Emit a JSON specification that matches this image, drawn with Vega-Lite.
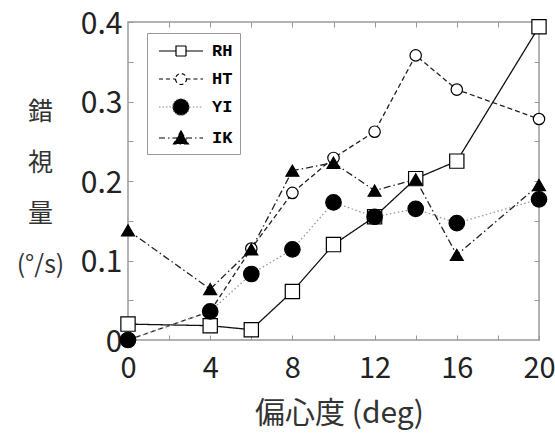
{
  "$schema": "https://vega.github.io/schema/vega-lite/v6.json",
  "width": 411,
  "height": 318,
  "autosize": {"type": "none"},
  "padding": {"left": 128, "top": 22, "right": 16, "bottom": 94},
  "background": "white",
  "config": {
    "view": {"stroke": "#999", "strokeWidth": 1.5},
    "font": "Noto Sans CJK JP",
    "legend": {
      "title": null,
      "orient": "none", "legendX": 19, "legendY": 11,
      "padding": 7, "strokeColor": "#999", "fillColor": "white",
      "rowPadding": 9, "symbolSize": 400, "symbolOpacity": 1, "symbolStrokeWidth": 1.2,
      "symbolOffset": 16,
      "labelFont": "Liberation Mono", "labelFontWeight": "bold",
      "labelFontSize": 17, "labelColor": "black", "labelOffset": 20
    }
  },
  "data": {
    "values": [
      {"series": "RH", "x": 0, "y": 0.020},
      {"series": "RH", "x": 4, "y": 0.018},
      {"series": "RH", "x": 6, "y": 0.013},
      {"series": "RH", "x": 8, "y": 0.061},
      {"series": "RH", "x": 10, "y": 0.120},
      {"series": "RH", "x": 12, "y": 0.155},
      {"series": "RH", "x": 14, "y": 0.203},
      {"series": "RH", "x": 16, "y": 0.225},
      {"series": "RH", "x": 20, "y": 0.394},
      {"series": "HT", "x": 0, "y": 0.0},
      {"series": "HT", "x": 4, "y": 0.036},
      {"series": "HT", "x": 6, "y": 0.115},
      {"series": "HT", "x": 8, "y": 0.185},
      {"series": "HT", "x": 10, "y": 0.229},
      {"series": "HT", "x": 12, "y": 0.262},
      {"series": "HT", "x": 14, "y": 0.358},
      {"series": "HT", "x": 16, "y": 0.315},
      {"series": "HT", "x": 20, "y": 0.278},
      {"series": "YI", "x": 0, "y": 0.0},
      {"series": "YI", "x": 4, "y": 0.036},
      {"series": "YI", "x": 6, "y": 0.083},
      {"series": "YI", "x": 8, "y": 0.114},
      {"series": "YI", "x": 10, "y": 0.173},
      {"series": "YI", "x": 12, "y": 0.155},
      {"series": "YI", "x": 14, "y": 0.165},
      {"series": "YI", "x": 16, "y": 0.147},
      {"series": "YI", "x": 20, "y": 0.177},
      {"series": "IK", "x": 0, "y": 0.138},
      {"series": "IK", "x": 4, "y": 0.064},
      {"series": "IK", "x": 6, "y": 0.114},
      {"series": "IK", "x": 8, "y": 0.213},
      {"series": "IK", "x": 10, "y": 0.223},
      {"series": "IK", "x": 12, "y": 0.188},
      {"series": "IK", "x": 14, "y": 0.202},
      {"series": "IK", "x": 16, "y": 0.107},
      {"series": "IK", "x": 20, "y": 0.195}
    ]
  },
  "layer": [
    {
      "mark": {"type": "line", "strokeWidth": 1.3},
      "encoding": {
        "x": {
          "field": "x", "type": "quantitative",
          "scale": {"domain": [0, 20], "nice": false, "zero": false},
          "axis": {
            "orient": "bottom",
            "values": [0, 2, 4, 6, 8, 10, 12, 14, 16, 18, 20],
            "labelExpr": "datum.value % 4 === 0 ? datum.label : ''",
            "labelFontSize": 29, "labelColor": "#222", "labelFlush": false,
            "labelPadding": 19,
            "tickSize": -5, "tickColor": "#999", "domain": false, "grid": false,
            "title": "偏心度 (deg)", "titleFontSize": 30, "titleFontWeight": "normal",
            "titleColor": "#333", "titleX": 211, "titleY": 73,
            "titleAlign": "center", "titleBaseline": "middle"
          }
        },
        "y": {
          "field": "y", "type": "quantitative",
          "scale": {"domain": [0, 0.4], "nice": false},
          "axis": {
            "orient": "left",
            "values": [0, 0.05, 0.1, 0.15, 0.2, 0.25, 0.3, 0.35, 0.4],
            "labelExpr": "abs(datum.value * 10 - round(datum.value * 10)) < 0.001 ? format(datum.value, '.1~f') : ''",
            "labelFontSize": 30, "labelColor": "#222", "labelFlush": false,
            "labelPadding": 11, "labelOffset": 2,
            "tickSize": -5, "tickColor": "#999", "domain": false, "grid": false,
            "title": ["錯", "視", "量", "(°/s)"], "titleAngle": 0,
            "titleFontSize": 25, "titleFontWeight": "normal", "titleColor": "#333",
            "titleX": -88, "titleY": 97, "titleAlign": "center",
            "titleBaseline": "alphabetic", "titleLineHeight": 51
          }
        },
        "detail": {"field": "series"},
        "strokeDash": {
          "field": "series", "type": "nominal",
          "scale": {"range": [[5, 3], [7, 3, 1.5, 3], [1, 0], [1.5, 2.5]]},
          "legend": null
        },
        "stroke": {
          "field": "series", "type": "nominal",
          "scale": {"range": ["#222", "#222", "#111", "#999"]},
          "legend": null
        }
      }
    },
    {
      "mark": {"type": "point", "filled": true, "opacity": 1, "stroke": "black", "strokeWidth": 1.2},
      "encoding": {
        "x": {
          "field": "x", "type": "quantitative",
          "axis": {
            "orient": "top", "values": [2, 4, 6, 8, 10, 12, 14, 16, 18],
            "labels": false, "tickSize": -5, "tickColor": "#999",
            "domain": false, "grid": false, "title": null
          }
        },
        "y": {
          "field": "y", "type": "quantitative",
          "axis": {
            "orient": "right", "values": [0.05, 0.1, 0.15, 0.2, 0.25, 0.3, 0.35],
            "labels": false, "tickSize": -5, "tickColor": "#999",
            "domain": false, "grid": false, "title": null
          }
        },
        "shape": {
          "field": "series", "type": "nominal",
          "scale": {"domain": ["RH", "HT", "YI", "IK"], "range": ["square", "circle", "circle", "triangle-up"]},
          "legend": null
        },
        "size": {
          "field": "series", "type": "nominal",
          "scale": {"range": [130, 240, 100, 272]},
          "legend": null
        },
        "fill": {
          "field": "series", "type": "nominal",
          "scale": {"range": ["white", "black", "white", "black"]},
          "legend": null
        }
      }
    },
    {
      "mark": {"type": "point", "filled": true, "opacity": 0, "strokeWidth": 1.2},
      "encoding": {
        "x": {"field": "x", "type": "quantitative", "axis": null},
        "y": {"field": "y", "type": "quantitative", "axis": null},
        "shape": {
          "field": "series", "type": "nominal",
          "scale": {"domain": ["RH", "HT", "YI", "IK"], "range": [
            "M-2.2,0H-0.5M0.5,0H2.2M-0.5,-0.5H0.5V0.5H-0.5Z",
            "M-2.2,0H-0.55M0.55,0H2.2M-0.55,0A0.55,0.55,0,1,0,0.55,0A0.55,0.55,0,1,0,-0.55,0Z",
            "M-2.2,0H-0.83M0.83,0H2.2M-0.83,0A0.83,0.83,0,1,0,0.83,0A0.83,0.83,0,1,0,-0.83,0Z",
            "M-2.2,0H2.2M0,-0.7L0.75,0.6L-0.75,0.6Z"
          ]},
          "legend": {"labelExpr": "datum.label + '\u00a0\u00a0\u00a0'"}
        },
        "fill": {
          "field": "series", "type": "nominal",
          "scale": {"domain": ["RH", "HT", "YI", "IK"], "range": ["white", "white", "black", "black"]},
          "legend": {"labelExpr": "datum.label + '\u00a0\u00a0\u00a0'"}
        },
        "stroke": {
          "field": "series", "type": "nominal",
          "scale": {"domain": ["RH", "HT", "YI", "IK"], "range": ["black", "black", "#888", "black"]},
          "legend": {"labelExpr": "datum.label + '\u00a0\u00a0\u00a0'"}
        },
        "strokeDash": {
          "field": "series", "type": "nominal",
          "scale": {"domain": ["RH", "HT", "YI", "IK"], "range": [[1, 0], [4, 3], [1.5, 2], [6, 3, 1.5, 3]]},
          "legend": {"labelExpr": "datum.label + '\u00a0\u00a0\u00a0'"}
        }
      }
    }
  ],
  "resolve": {
    "axis": {"x": "independent", "y": "independent"},
    "scale": {"shape": "independent", "fill": "independent", "stroke": "independent", "strokeDash": "independent", "size": "independent"}
  }
}
